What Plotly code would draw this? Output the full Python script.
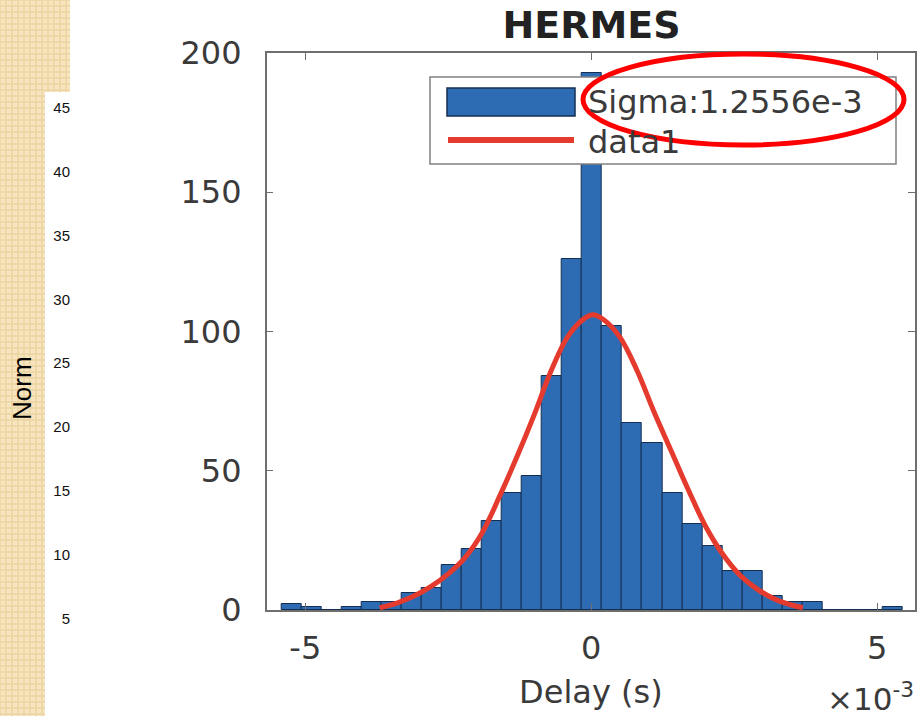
import base64
import plotly.graph_objects as go

# ---------------- data ----------------
bin_start = -5.41e-3          # left edge of first histogram bin (s)
bin_width = 0.35e-3           # histogram bin width (s)
counts = [2, 1, 0, 1, 3, 3, 6, 8, 16, 22, 32, 42, 48, 84, 126, 193,
          102, 67, 60, 42, 31, 23, 14, 14, 5, 3, 3, 0, 0, 0, 1]

fit_x = [-3.7e-3, -3.4e-3, -3.1e-3, -2.8e-3, -2.5e-3, -2.2e-3, -1.9e-3, -1.6e-3,
         -1.3e-3, -1.0e-3, -0.7e-3, -0.4e-3, -0.1e-3, 0.03e-3, 0.2e-3, 0.5e-3,
         0.8e-3, 1.1e-3, 1.4e-3, 1.7e-3, 2.0e-3, 2.3e-3, 2.6e-3, 2.9e-3,
         3.2e-3, 3.5e-3, 3.7e-3]
fit_y = [0.8, 2.5, 5, 8.5, 13, 19, 28, 41, 55, 70, 86, 98.5, 105, 106, 104.5,
         98, 86, 71, 57, 43, 30, 20, 12.5, 7.5, 4, 1.8, 0.8]

x_tickvals = [-5e-3, 0, 5e-3]
x_ticktext = ["-5", "0", "5"]
y_tickvals = [0, 50, 100, 150, 200]
left_tickvals = [5, 10, 15, 20, 25, 30, 35, 40, 45]

legend_labels = ["Sigma:1.2556e-3", "data1"]
title_text = "HERMES"
x_title = "Delay (s)"
left_title = "Norm"

# ---------------- helpers ----------------
W, H = 918, 716
def px(x):
    return x / W
def py(y):
    return 1 - y / H

bin_centers = [bin_start + bin_width * (i + 0.5) for i in range(len(counts))]

BLUE = "#2D6CB3"
EDGE = "#142E52"
RED_FIT = "#E53A2E"
TXT = "#3a3a3a"
AX = "#6e6e6e"
FONT = "DejaVu Sans"

fig = go.Figure()
fig.add_trace(go.Bar(
    x=bin_centers, y=counts, width=bin_width,
    marker=dict(color=BLUE, line=dict(color=EDGE, width=1)),
    name=legend_labels[0], showlegend=False,
))
fig.add_trace(go.Scatter(
    x=fit_x, y=fit_y, mode="lines",
    line=dict(color=RED_FIT, width=5, shape="spline", smoothing=1.0),
    name=legend_labels[1], showlegend=False,
))
# dummy trace for the left (cropped) panel axis
fig.add_trace(go.Scatter(x=[None], y=[None], xaxis="x2", yaxis="y2",
                         showlegend=False, hoverinfo="skip"))

# beige patterned strip (background decoration)
svg = (
    '<svg xmlns="http://www.w3.org/2000/svg" width="70" height="716" viewBox="0 0 70 716">'
    '<defs><pattern id="p" width="6" height="6" patternUnits="userSpaceOnUse">'
    '<rect width="6" height="6" fill="#EED7A6"/>'
    '<rect x="1" y="1" width="4" height="4" fill="#F8E7C3"/>'
    '<rect x="2.5" y="2.5" width="1" height="1" fill="#EFD9AA"/>'
    '</pattern></defs>'
    '<path d="M0,0H70V92H45V716H0Z" fill="url(#p)"/></svg>'
)
src = "data:image/svg+xml;base64," + base64.b64encode(svg.encode()).decode()

shapes = [
    # legend box
    dict(type="rect", xref="paper", yref="paper", x0=px(430), x1=px(896), y0=py(164), y1=py(77),
         line=dict(color="#808080", width=1.5), fillcolor="white", layer="above"),
    # legend patch
    dict(type="rect", xref="paper", yref="paper", x0=px(447), x1=px(575), y0=py(116), y1=py(88),
         line=dict(color=EDGE, width=1.5), fillcolor=BLUE, layer="above"),
    # legend line
    dict(type="line", xref="paper", yref="paper", x0=px(448), x1=px(574), y0=py(140), y1=py(140),
         line=dict(color=RED_FIT, width=6), layer="above"),
    # red highlight ellipse
    dict(type="circle", xref="paper", yref="paper", x0=px(583), x1=px(904), y0=py(145), y1=py(54),
         line=dict(color="#FF0000", width=5), fillcolor="rgba(0,0,0,0)", layer="above"),
]

annotations = [
    dict(text=legend_labels[0], xref="paper", yref="paper", x=px(586), y=py(102),
         xanchor="left", yanchor="middle", showarrow=False,
         font=dict(family=FONT, size=32, color=TXT)),
    dict(text=legend_labels[1], xref="paper", yref="paper", x=px(586), y=py(142),
         xanchor="left", yanchor="middle", showarrow=False,
         font=dict(family=FONT, size=32, color=TXT)),
    dict(text="×10<sup>-3</sup>", xref="paper", yref="paper", x=px(916), y=py(697),
         xanchor="right", yanchor="middle", showarrow=False,
         font=dict(family=FONT, size=31, color=TXT)),
    dict(text=left_title, xref="paper", yref="paper", x=px(22), y=py(388),
         xanchor="center", yanchor="middle", textangle=-90, showarrow=False,
         font=dict(family="Liberation Sans", size=26, color="#000000")),
]

fig.update_layout(
    template="none",
    width=W, height=H, autosize=False,
    margin=dict(l=0, r=0, t=0, b=0, pad=0, autoexpand=False),
    paper_bgcolor="white", plot_bgcolor="white",
    bargap=0, showlegend=False,
    title=dict(text="<b>" + title_text + "</b>", x=px(591.5), y=py(25),
               xref="container", yref="container", xanchor="center", yanchor="middle",
               automargin=False,
               font=dict(family=FONT, size=38, color="#222222")),
    xaxis=dict(domain=[px(266.7), px(915)], range=[-5.675e-3, 5.66e-3],
               tickvals=x_tickvals, ticktext=x_ticktext, automargin=False,
               showline=True, linecolor=AX, linewidth=1.5, mirror="allticks",
               ticks="inside", ticklen=7, tickcolor=AX, tickwidth=1.2,
               tickfont=dict(family=FONT, size=32, color=TXT),
               ticklabelstandoff=9,
               showgrid=False, zeroline=False,
               title=dict(text=x_title, font=dict(family=FONT, size=32, color=TXT), standoff=14)),
    yaxis=dict(domain=[py(610), py(53)], range=[0, 200],
               tickvals=y_tickvals, automargin=False,
               showline=True, linecolor=AX, linewidth=1.5, mirror="allticks",
               ticks="inside", ticklen=7, tickcolor=AX, tickwidth=1.2,
               tickfont=dict(family=FONT, size=32, color=TXT),
               ticklabelstandoff=17,
               showgrid=False, zeroline=False),
    xaxis2=dict(domain=[px(45), px(72)], range=[0, 1], visible=False, anchor="y2",
                automargin=False),
    yaxis2=dict(domain=[0, py(92)], range=[-2.586, 46.21], anchor="free", position=px(70),
                tickvals=left_tickvals, showline=False, ticks="", showgrid=False, zeroline=False,
                automargin=False,
                tickfont=dict(family="Liberation Sans", size=15, color="#111111"),
                ticklabelstandoff=0),
    shapes=shapes,
    annotations=annotations,
    images=[dict(source=src, xref="paper", yref="paper", x=0, y=1,
                 sizex=px(70), sizey=1, xanchor="left", yanchor="top",
                 sizing="stretch", layer="below")],
)

fig.write_html("out.html")
